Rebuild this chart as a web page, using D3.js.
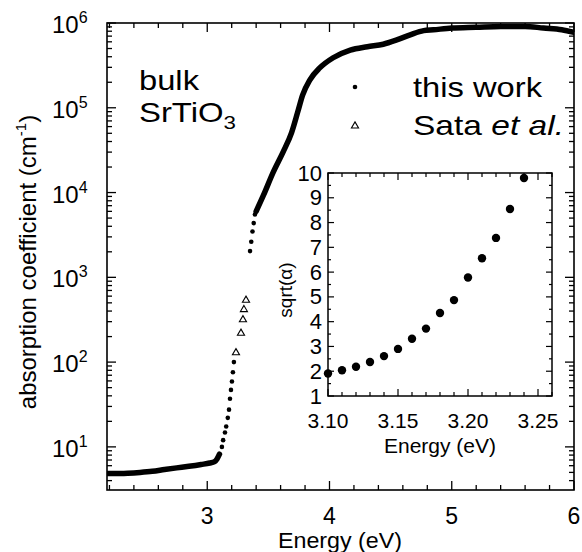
<!DOCTYPE html>
<html><head><meta charset="utf-8">
<script src="https://cdn.jsdelivr.net/npm/d3@7"></script>
<style>
body{margin:0;background:#fff}
svg{display:block}
text{font-family:"Liberation Sans",Arial,Helvetica,sans-serif;fill:#000}
</style></head>
<body><svg id="c" width="582" height="552"></svg>
<script>
// ---- data ----
// "this work": low-energy tail (dense, drawn as thick dotted trace)
const tailEnergy = [2.18, 2.25, 2.35, 2.45, 2.55, 2.65, 2.75, 2.85, 2.95, 3.02, 3.06, 3.08, 3.10];
const tailAlpha  = [4.85, 4.85, 4.9, 5.0, 5.15, 5.4, 5.65, 5.9, 6.2, 6.45, 6.7, 7.2, 8.2];
// "this work": absorption edge (sparse, separated dots)
const edgeEnergy = [3.12, 3.13, 3.145, 3.155, 3.168, 3.178, 3.186, 3.194, 3.202, 3.210, 3.218, 3.35, 3.36, 3.37, 3.38, 3.39];
const edgeAlpha  = [10, 12, 14.8, 17.4, 22, 27.5, 37, 47, 59, 76, 100, 2040, 2630, 3470, 4360, 5500];
// "this work": interband region (dense)
const bandEnergy = [3.40, 3.46, 3.54, 3.62, 3.69, 3.74, 3.78, 3.84, 3.92, 4.03, 4.17, 4.31, 4.44, 4.55, 4.66, 4.77, 4.85, 5.0, 5.2, 5.4, 5.6, 5.75, 5.9, 6.0];
const bandAlpha  = [6000, 9300, 17400, 30000, 51000, 89000, 141000, 214000, 295000, 389000, 479000, 525000, 562000, 631000, 724000, 813000, 832000, 871000, 891000, 912000, 912000, 871000, 832000, 776000];
// Sata et al.
const sataEnergy = [3.235, 3.276, 3.292, 3.300, 3.317];
const sataAlpha  = [129, 219, 316, 417, 537];
// inset: sqrt(alpha) vs energy
const insetEnergy = [3.10, 3.11, 3.12, 3.13, 3.14, 3.15, 3.16, 3.17, 3.18, 3.19, 3.20, 3.21, 3.22, 3.23, 3.24];
const insetSqrt   = [1.91, 2.04, 2.18, 2.37, 2.61, 2.90, 3.31, 3.72, 4.35, 4.87, 5.78, 6.56, 7.38, 8.55, 9.80];
// tick labels
const mainXTicks = [3, 4, 5, 6];
const mainYExps  = [1, 2, 3, 4, 5, 6];
const insetXTicks = [3.10, 3.15, 3.20, 3.25];
const insetYTicks = [1, 2, 3, 4, 5, 6, 7, 8, 9, 10];
const legendLabels = ["this work", "Sata"];

// ---- drawing ----
const svg = d3.select("#c");
const zip = (a, b) => a.map((v, i) => [v, b[i]]);

const xMain = d3.scaleLinear().domain([2.18, 6]).range([107, 574]);
const yMain = d3.scaleLog().domain([3.1, 1e6]).range([490, 23]);
const [x0, x1] = xMain.range(), [y0, y1] = yMain.range();

const main = svg.append("g");
main.append("defs").append("clipPath").attr("id", "clipMain")
  .append("rect").attr("x", x0).attr("y", y1).attr("width", x1 - x0).attr("height", y0 - y1);

// ticks main
const tk = main.append("g").attr("stroke", "#000").attr("stroke-width", 1.3);
const xMinor = d3.range(2.2, 6.0001, 0.2).filter(v => Math.abs(v - Math.round(v)) > 0.01);
xMinor.forEach(v => {
  const x = xMain(v);
  tk.append("line").attr("x1", x).attr("x2", x).attr("y1", y0).attr("y2", y0 - 5);
  tk.append("line").attr("x1", x).attr("x2", x).attr("y1", y1).attr("y2", y1 + 5);
});
mainXTicks.forEach(v => {
  const x = xMain(v);
  tk.append("line").attr("x1", x).attr("x2", x).attr("y1", y0).attr("y2", y0 - 9);
  tk.append("line").attr("x1", x).attr("x2", x).attr("y1", y1).attr("y2", y1 + 9);
});
const yMinor = [];
for (let d = 0; d < 6; d++) for (let m = 2; m <= 9; m++) { const v = m * Math.pow(10, d); if (v >= 3.1 && v < 1e6) yMinor.push(v); }
yMinor.forEach(v => {
  const y = yMain(v);
  tk.append("line").attr("x1", x0).attr("x2", x0 + 5).attr("y1", y).attr("y2", y);
  tk.append("line").attr("x1", x1).attr("x2", x1 - 5).attr("y1", y).attr("y2", y);
});
mainYExps.forEach(e => {
  const y = yMain(Math.pow(10, e));
  tk.append("line").attr("x1", x0).attr("x2", x0 + 9).attr("y1", y).attr("y2", y);
  tk.append("line").attr("x1", x1).attr("x2", x1 - 9).attr("y1", y).attr("y2", y);
});

// frame
main.append("rect").attr("x", x0).attr("y", y1).attr("width", x1 - x0).attr("height", y0 - y1)
  .attr("fill", "none").attr("stroke", "#000").attr("stroke-width", 1.6);

// main tick labels
main.selectAll("text.xl").data(mainXTicks).join("text").attr("class", "xl")
  .attr("x", d => xMain(d)).attr("y", 524).attr("text-anchor", "middle")
  .attr("font-size", 23).text(d => d);
mainYExps.forEach(e => {
  const t = main.append("text").attr("x", 52).attr("y", yMain(Math.pow(10, e)) + 10)
    .attr("font-size", 24);
  t.append("tspan").text("10");
  t.append("tspan").attr("font-size", 16).attr("dy", -10).text(e);
});

// axis titles
main.append("text").attr("x", 340).attr("y", 548).attr("text-anchor", "middle")
  .attr("font-size", 22).attr("textLength", 124).attr("lengthAdjust", "spacingAndGlyphs")
  .text("Energy (eV)");
const yt = main.append("text").attr("transform", "translate(36,262) rotate(-90)")
  .attr("text-anchor", "middle").attr("font-size", 24);
yt.append("tspan").text("absorption coefficient (cm");
yt.append("tspan").attr("font-size", 15).attr("dy", -10).text("-1");
yt.append("tspan").attr("dy", 10).text(")");

// annotations
main.append("text").attr("x", 139).attr("y", 90).attr("font-size", 28)
  .attr("textLength", 60).attr("lengthAdjust", "spacingAndGlyphs").text("bulk");
const st = main.append("text").attr("x", 139).attr("y", 122).attr("font-size", 28)
  .attr("textLength", 97).attr("lengthAdjust", "spacingAndGlyphs");
st.append("tspan").text("SrTiO");
st.append("tspan").attr("font-size", 19).attr("dy", 7).text("3");

// legend
main.append("circle").attr("cx", 355).attr("cy", 87).attr("r", 2.3).attr("fill", "#000");
main.append("path").attr("d", d3.symbol(d3.symbolTriangle).size(22)())
  .attr("transform", "translate(355,126)").attr("fill", "#fff").attr("stroke", "#000").attr("stroke-width", 1.1);
main.append("text").attr("x", 413).attr("y", 97).attr("font-size", 28)
  .attr("textLength", 129).attr("lengthAdjust", "spacingAndGlyphs").text(legendLabels[0]);
const sl = main.append("text").attr("x", 413).attr("y", 135).attr("font-size", 28)
  .attr("textLength", 151).attr("lengthAdjust", "spacingAndGlyphs");
sl.append("tspan").text(legendLabels[1] + " ");
sl.append("tspan").attr("font-style", "italic").text("et al.");

// data: this work
const plot = main.append("g").attr("clip-path", "url(#clipMain)");
const line = d3.line().x(d => xMain(d[0])).y(d => yMain(d[1])).curve(d3.curveMonotoneX);
[zip(tailEnergy, tailAlpha), zip(bandEnergy, bandAlpha)].forEach(seg => {
  plot.append("path").attr("d", line(seg)).attr("fill", "none").attr("stroke", "#000")
    .attr("stroke-width", 5.5).attr("stroke-linecap", "round").attr("stroke-linejoin", "round");
});
plot.selectAll("circle.edge").data(zip(edgeEnergy, edgeAlpha)).join("circle").attr("class", "edge")
  .attr("cx", d => xMain(d[0])).attr("cy", d => yMain(d[1])).attr("r", 2.3).attr("fill", "#000");
// Sata et al.
plot.selectAll("path.sata").data(zip(sataEnergy, sataAlpha)).join("path").attr("class", "sata")
  .attr("d", d3.symbol(d3.symbolTriangle).size(22)())
  .attr("transform", d => `translate(${xMain(d[0])},${yMain(d[1])})`)
  .attr("fill", "#fff").attr("stroke", "#000").attr("stroke-width", 1.1);

// ---- inset ----
const xIn = d3.scaleLinear().domain([3.10, 3.26]).range([328, 552]);
const yIn = d3.scaleLinear().domain([1, 10]).range([396, 173]);
const [ix0, ix1] = xIn.range(), [iy0, iy1] = yIn.range();
const ins = svg.append("g");
ins.append("rect").attr("x", ix0).attr("y", iy1).attr("width", ix1 - ix0).attr("height", iy0 - iy1)
  .attr("fill", "#fff");
const itk = ins.append("g").attr("stroke", "#000").attr("stroke-width", 1.2);
d3.range(3.10, 3.2601, 0.01).forEach(v => {
  const x = xIn(v);
  const major = Math.abs(v * 20 - Math.round(v * 20)) < 0.01;
  const len = major ? 7 : 4;
  itk.append("line").attr("x1", x).attr("x2", x).attr("y1", iy0).attr("y2", iy0 - len);
  itk.append("line").attr("x1", x).attr("x2", x).attr("y1", iy1).attr("y2", iy1 + len);
});
d3.range(1, 10.001, 0.5).forEach(v => {
  const y = yIn(v);
  const len = Number.isInteger(v) ? 6 : 3;
  itk.append("line").attr("x1", ix0).attr("x2", ix0 + len).attr("y1", y).attr("y2", y);
  itk.append("line").attr("x1", ix1).attr("x2", ix1 - len).attr("y1", y).attr("y2", y);
});
ins.append("rect").attr("x", ix0).attr("y", iy1).attr("width", ix1 - ix0).attr("height", iy0 - iy1)
  .attr("fill", "none").attr("stroke", "#000").attr("stroke-width", 1.5);
ins.selectAll("text.ixl").data(insetXTicks).join("text").attr("class", "ixl")
  .attr("x", d => xIn(d)).attr("y", 428).attr("text-anchor", "middle").attr("font-size", 21)
  .text(d => d3.format(".2f")(d));
ins.selectAll("text.iyl").data(insetYTicks).join("text").attr("class", "iyl")
  .attr("x", 322).attr("y", d => yIn(d) + 7.5).attr("text-anchor", "end").attr("font-size", 22)
  .text(d => d);
ins.append("text").attr("x", 440).attr("y", 453).attr("text-anchor", "middle").attr("font-size", 21)
  .text("Energy (eV)");
ins.append("text").attr("transform", "translate(292,290) rotate(-90)").attr("text-anchor", "middle")
  .attr("font-size", 19).text("sqrt(\u03b1)");
ins.selectAll("circle.in").data(zip(insetEnergy, insetSqrt)).join("circle").attr("class", "in")
  .attr("cx", d => xIn(d[0])).attr("cy", d => yIn(d[1])).attr("r", 4.2).attr("fill", "#000");
</script>
</body></html>
